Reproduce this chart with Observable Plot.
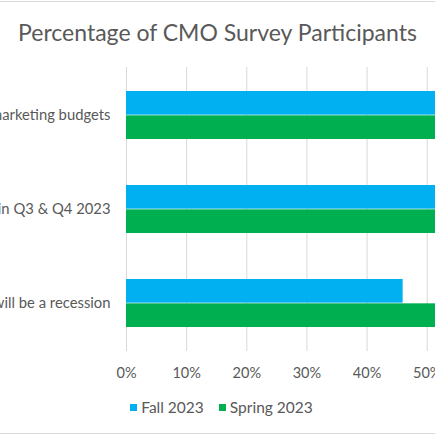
<!DOCTYPE html>
<html>
<head>
<meta charset="utf-8">
<script src="https://cdn.jsdelivr.net/npm/d3@7"></script>
<script src="https://cdn.jsdelivr.net/npm/@observablehq/plot@0.6"></script>
<style>
  html, body { margin: 0; padding: 0; background: #fff; }
  #frame { position: relative; width: 435px; height: 435px; overflow: hidden; font-family: Lato, "Open Sans", sans-serif; background: #fff; }
  #title { position: absolute; top: 19px; left: 0; width: 435px; text-align: center; font-size: 23px; line-height: 26px; color: #595959; }
  #chart { position: absolute; top: 0; left: -124px; width: 691px; }
  #chart svg { max-width: none !important; width: 691px; height: 382px; }
  #legend { position: absolute; top: 398px; left: 0; width: 435px; display: flex; justify-content: center; gap: 15px; font-size: 15.5px; color: #595959; padding-left: 8px; box-sizing: border-box; }
  .item { display: flex; align-items: center; gap: 4px; }
  .sw { width: 7px; height: 7px; display: inline-block; }
  .line { position: absolute; left: 0; width: 435px; height: 1px; background: #D9D9D9; }
</style>
</head>
<body>
<div id="frame">
  <div class="line" style="top:1px"></div>
  <div id="title"></div>
  <div id="chart"></div>
  <div id="legend"></div>
  <div class="line" style="top:433px"></div>
</div>
<script>
const title = "Percentage of CMO Survey Participants";
const categories = ["Increase in marketing budgets", "Positive outlook in Q3 & Q4 2023", "Believe there will be a recession"];
const series = ["Fall 2023", "Spring 2023"];
const colors = ["#00B0F0", "#00B050"];
const fallValues = [0.60, 0.58, 0.46];
const springValues = [0.57, 0.62, 0.64];
const xTicks = [0, 0.1, 0.2, 0.3, 0.4, 0.5, 0.6, 0.7];

const data = categories.flatMap((c, i) => [
  {category: c, series: series[0], value: fallValues[i]},
  {category: c, series: series[1], value: springValues[i]}
]);

document.getElementById("title").textContent = title;

const plot = Plot.plot({
  width: 691,
  height: 382,
  marginLeft: 250,
  marginRight: 20,
  marginTop: 67,
  marginBottom: 31,
  style: {fontFamily: "Lato, 'Open Sans', sans-serif", fontSize: "14.5px", color: "#595959", background: "transparent", maxWidth: "none"},
  x: {domain: [0, 0.7], ticks: xTicks, tickFormat: d3.format(".0%"), label: null},
  y: {domain: categories, padding: 0, label: null},
  color: {domain: series, range: colors},
  marks: [
    Plot.gridX(xTicks, {stroke: "#D9D9D9", strokeOpacity: 1, strokeWidth: 1}),
    Plot.barX(data.filter(d => d.series === series[0]), {y: "category", x: "value", fill: d => d.series, insetTop: 23, insetBottom: 47.33}),
    Plot.barX(data.filter(d => d.series === series[1]), {y: "category", x: "value", fill: d => d.series, insetTop: 47.33, insetBottom: 23}),
    Plot.axisX(xTicks, {tickSize: 0, tickPadding: 16, fill: "#595959", tickFormat: d3.format(".0%"), label: null}),
    Plot.axisY({tickSize: 0, tickPadding: 16, fill: "#595959", label: null, fontSize: 14.8})
  ]
});
document.getElementById("chart").appendChild(plot);

const legend = document.getElementById("legend");
series.forEach((s, i) => {
  const item = document.createElement("span");
  item.className = "item";
  const sw = document.createElement("span");
  sw.className = "sw";
  sw.style.background = colors[i];
  const t = document.createElement("span");
  t.textContent = s;
  item.appendChild(sw);
  item.appendChild(t);
  legend.appendChild(item);
});
</script>
</body>
</html>
